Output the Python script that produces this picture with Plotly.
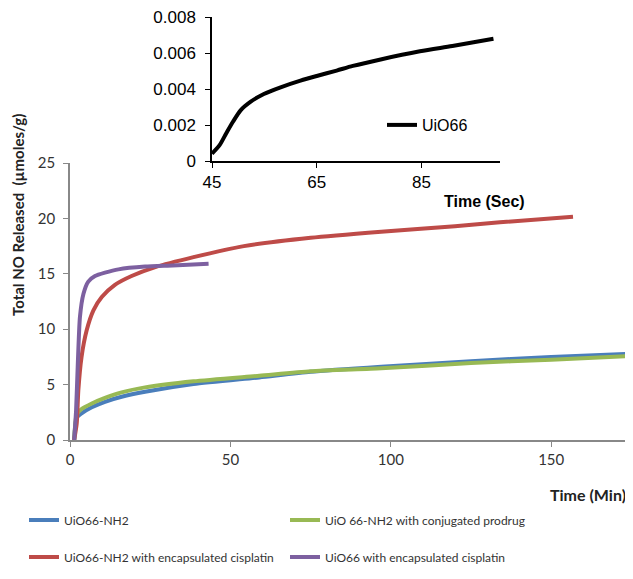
import plotly.graph_objects as go

# ---- main chart data (time in min, total NO released in µmoles/g) ----
blue_name = "UiO66-NH2"
blue_t = [1.3, 2.1, 3.6, 6.8, 10.9, 16.1, 23.4, 38.5, 59, 75, 97, 125, 150, 176]
blue_v = [0, 2.0, 2.4, 2.95, 3.45, 3.9, 4.35, 5.05, 5.65, 6.15, 6.6, 7.1, 7.5, 7.8]

green_name = "UiO 66-NH2 with conjugated prodrug"
green_t = [1.3, 2.1, 3.6, 6.8, 10.9, 16.1, 23.4, 38.5, 59, 75, 97, 125, 150, 176]
green_v = [0, 2.3, 2.8, 3.3, 3.8, 4.3, 4.75, 5.3, 5.8, 6.2, 6.47, 6.95, 7.25, 7.6]

red_name = "UiO66-NH2 with encapsulated cisplatin"
red_t = [1.3, 2.1, 2.6, 3.6, 5.2, 7.3, 9.9, 14, 19.2, 26.6, 38.5, 54.2, 75, 97, 120, 134, 156.8]
red_v = [0, 1.5, 4.5, 7.5, 9.9, 11.7, 12.9, 14.0, 14.8, 15.6, 16.5, 17.5, 18.25, 18.8, 19.3, 19.65, 20.15]

purple_name = "UiO66 with encapsulated cisplatin"
purple_t = [1.3, 1.9, 2.4, 3.1, 4.2, 5.7, 7.8, 10.9, 15.1, 23.4, 32, 43.2]
purple_v = [0, 2.7, 6.6, 11.1, 13.2, 14.3, 14.8, 15.1, 15.4, 15.65, 15.75, 15.9]

main_x_ticks = [0, 50, 100, 150]
main_y_ticks = [0, 5, 10, 15, 20, 25]

# ---- inset data (time in sec) ----
inset_name = "UiO66"
inset_t = [45, 46.45, 47.7, 49.0, 50.5, 52.4, 54.9, 58.1, 61.9, 65, 68.8, 71.9, 77.2, 84.7, 90.9, 98.75]
inset_v = [0.00041, 0.00088, 0.00153, 0.00218, 0.00283, 0.0033, 0.00373, 0.0041, 0.00447,
           0.00473, 0.00503, 0.00529, 0.00565, 0.0061, 0.0064, 0.0068]
inset_x_ticks = [45, 65, 85]
inset_y_ticks = [0, 0.002, 0.004, 0.006, 0.008]
inset_y_labels = ["0", "0.002", "0.004", "0.006", "0.008"]

BODY = "Lato"
ARIAL = "Liberation Sans"

fig = go.Figure()

def add_main(t, v, name, color, legend):
    fig.add_trace(go.Scatter(x=t, y=v, name=name, mode="lines",
                             line=dict(color=color, width=4, shape="spline", smoothing=0.6),
                             legend=legend, xaxis="x", yaxis="y"))

add_main(blue_t, blue_v, blue_name, "#4A7EBB", "legend")
add_main(green_t, green_v, green_name, "#98B954", "legend")
add_main(red_t, red_v, red_name, "#BE4B48", "legend3")
add_main(purple_t, purple_v, purple_name, "#7D60A0", "legend3")

fig.add_trace(go.Scatter(x=inset_t, y=inset_v, name=inset_name, mode="lines",
                         line=dict(color="black", width=4, shape="spline", smoothing=0.8),
                         legend="legend2", xaxis="x2", yaxis="y2"))

# page has an 8px body margin: figure coords = page coords - 8
OFF = 8
W, H = 633 - OFF, 579 - OFF
L, T = 70 - OFF, 17 - OFF
PLOT_BOTTOM = 440 - OFF
B = H - PLOT_BOTTOM
R = 0
pw = W - L - R
ph = H - T - B

def px(x):  # page x -> paper fraction
    return (x - OFF - L) / pw

def py(y):  # page y -> paper fraction
    return (PLOT_BOTTOM - (y - OFF)) / ph

fig.update_layout(
    width=W, height=H,
    margin=dict(l=L, r=R, t=T, b=B, pad=0),
    paper_bgcolor="white", plot_bgcolor="white",
    font=dict(family=BODY, size=15, color="#333333"),
    xaxis=dict(domain=[0, 1], range=[0, 175.5], tickvals=main_x_ticks,
               showline=True, linecolor="#888888", linewidth=1.5,
               ticks="outside", ticklen=5, tickcolor="#888888",
               showgrid=False, zeroline=False, anchor="y",
               tickfont=dict(family=BODY, size=15, color="#333333")),
    yaxis=dict(domain=[0, py(163)], range=[0, 25], tickvals=main_y_ticks,
               showline=True, linecolor="#888888", linewidth=1.5,
               ticks="outside", ticklen=5, tickcolor="#888888",
               ticklabelstandoff=5,
               showgrid=False, zeroline=False, anchor="x",
               tickfont=dict(family=BODY, size=15, color="#333333")),
    xaxis2=dict(domain=[px(212), px(500)], range=[45, 100], tickvals=inset_x_ticks,
                showline=True, linecolor="black", linewidth=1.5,
                ticks="outside", ticklen=5, tickcolor="black",
                showgrid=False, zeroline=False, anchor="y2",
                tickfont=dict(family=ARIAL, size=17, color="black")),
    yaxis2=dict(domain=[py(161), 1.0], range=[0, 0.00801], tickvals=inset_y_ticks,
                ticktext=inset_y_labels, ticklabeloverflow="allow",
                showline=True, linecolor="black", linewidth=1.5,
                ticks="outside", ticklen=5, tickcolor="black",
                ticklabelstandoff=6,
                showgrid=False, zeroline=False, anchor="x2",
                tickfont=dict(family=ARIAL, size=17, color="black")),
    legend=dict(orientation="h", x=px(24), y=py(520), xanchor="left", yanchor="middle",
                entrywidth=216, entrywidthmode="pixels",
                font=dict(family=BODY, size=12, color="#333333"),
                bgcolor="rgba(0,0,0,0)", itemwidth=30, traceorder="normal"),
    legend3=dict(orientation="h", x=px(24), y=py(557), xanchor="left", yanchor="middle",
                 entrywidth=216, entrywidthmode="pixels",
                 font=dict(family=BODY, size=12, color="#333333"),
                 bgcolor="rgba(0,0,0,0)", itemwidth=30, traceorder="normal"),
    legend2=dict(orientation="v", x=px(382), y=py(125), xanchor="left", yanchor="middle",
                 font=dict(family=ARIAL, size=16, color="black"),
                 bgcolor="rgba(0,0,0,0)", itemwidth=30),
    showlegend=True,
)

fig.add_annotation(text="<b>Time (Min)</b>", xref="paper", yref="paper",
                   x=px(628), y=py(494), xanchor="right", yanchor="middle",
                   showarrow=False, font=dict(family=BODY, size=16, color="#222222"))
fig.add_annotation(text="<b>Time (Sec)</b>", xref="paper", yref="paper",
                   x=px(484), y=py(202), xanchor="center", yanchor="middle",
                   showarrow=False, font=dict(family=ARIAL, size=16, color="black"))
fig.add_annotation(text="<b>Total NO Released  (µmoles/g)</b>", xref="paper", yref="paper",
                   x=px(18), y=py(318), xanchor="center", yanchor="bottom", textangle=-90,
                   showarrow=False, font=dict(family=BODY, size=15, color="#222222"))

fig.write_html("out.html")
